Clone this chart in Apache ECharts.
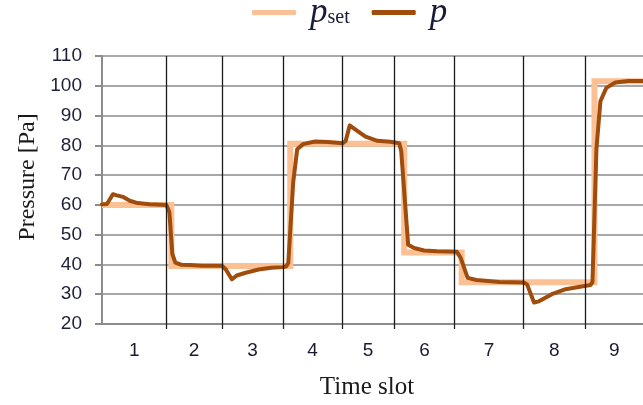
<!DOCTYPE html>
<html>
<head>
<meta charset="utf-8">
<script src="https://cdn.jsdelivr.net/npm/echarts@6/dist/echarts.min.js"></script>
<style>
  html, body { margin: 0; padding: 0; background: #fff; }
  #chart { width: 643px; height: 405px; }
</style>
</head>
<body>
<div id="chart"></div>
<script>
// time slots: labels and boundaries (time index)
const slotLabels = ['1', '2', '3', '4', '5', '6', '7', '8', '9'];
const slotBounds = [0, 65, 121, 183, 242, 295, 356, 425, 488, 546];

// pressure axis
const yMin = 20;
const yMax = 110;
const yStep = 10;

// set point p_set (step profile)
const setTime = [0, 70, 70, 190, 190, 305, 305, 363, 363, 497, 497, 546];
const setValue = [60, 60, 39.5, 39.5, 80.5, 80.5, 44, 44, 34, 34, 101.5, 101.5];

// measured pressure p
const pTime = [0, 5, 11, 15, 21, 28, 36, 48, 65, 68, 71, 74, 80, 88, 101, 121,
  125, 131, 136, 145, 158, 171, 183, 186, 188, 193, 197, 203, 215, 228, 243,
  246, 250, 258, 266, 278, 291, 300, 302, 309, 315, 325, 338, 358, 362, 369,
  378, 401, 426, 429, 436, 441, 454, 468, 481, 493, 495, 499, 503, 509, 518,
  531, 546];
const pValue = [60.2, 60.3, 63.6, 63.2, 62.7, 61.4, 60.6, 60.2, 60.0, 57.5, 43.5, 40.6, 39.9, 39.8, 39.6, 39.6,
  38.3, 35.0, 36.3, 37.2, 38.3, 38.9, 39.1, 39.4, 40.5, 67.7, 78.7, 80.4, 81.3, 81.1, 80.7,
  81.5, 86.7, 84.8, 82.9, 81.5, 81.2, 80.7, 78.0, 46.6, 45.5, 44.7, 44.4, 44.3, 42.2, 35.5,
  34.8, 34.1, 33.9, 33.3, 27.2, 27.6, 30.0, 31.7, 32.4, 33.1, 34.0, 78.7, 94.8, 99.3, 101.1,
  101.6, 101.6];

const innerBounds = slotBounds.slice(1, -1);
const slotMids = slotLabels.map((s, i) => (slotBounds[i] + slotBounds[i + 1]) / 2);

const chart = echarts.init(document.getElementById('chart'));

chart.setOption({
  animation: false,
  backgroundColor: '#fff',
  legend: {
    left: 247,
    top: -10,
    itemWidth: 44,
    itemHeight: 5,
    itemGap: 22,
    icon: 'roundRect',
    data: ['pset', 'p'],
    formatter: name => name === 'pset' ? '{i|p}{s|set}' : '{i|p}',
    textStyle: {
      rich: {
        i: { fontFamily: 'Liberation Serif', fontStyle: 'italic', fontSize: 35, color: '#1a1a3a', padding: [0, 0, 0, 9] },
        s: { fontFamily: 'Liberation Serif', fontSize: 20, color: '#1a1a3a', verticalAlign: 'bottom', padding: [0, 0, 2, 0] }
      }
    }
  },
  grid: { left: 102, right: -5, top: 56, bottom: 78 },
  xAxis: {
    type: 'value',
    min: slotBounds[0],
    max: slotBounds[slotBounds.length - 1],
    name: 'Time slot',
    nameLocation: 'middle',
    nameGap: 51,
    nameTextStyle: { fontFamily: 'Liberation Serif', fontSize: 25, color: '#1a1a1a', padding: [0, 11, 0, 0] },
    axisLine: { lineStyle: { color: '#8c8c8c', width: 2 } },
    axisTick: { customValues: innerBounds, length: 5, lineStyle: { color: '#222', width: 1.3 } },
    axisLabel: {
      customValues: slotMids,
      formatter: v => slotLabels[slotMids.indexOf(v)],
      margin: 17,
      fontFamily: 'Liberation Sans',
      fontSize: 19,
      color: '#1a1a2e'
    },
    splitLine: { show: false }
  },
  yAxis: {
    type: 'value',
    min: yMin,
    max: yMax,
    interval: yStep,
    name: 'Pressure [Pa]',
    nameLocation: 'middle',
    nameGap: 62,
    nameTextStyle: { fontFamily: 'Liberation Serif', fontSize: 24, color: '#1a1a1a', padding: [0, 0, 0, 26] },
    axisLine: { show: true, lineStyle: { color: '#8c8c8c', width: 2 } },
    axisTick: { show: true, length: 7, lineStyle: { color: '#8c8c8c', width: 2 } },
    axisLabel: { margin: 20, fontFamily: 'Liberation Sans', fontSize: 19, color: '#1f1f3a' },
    splitLine: { lineStyle: { color: '#a8a8a8', width: 2 } }
  },
  series: [
    {
      name: 'pset',
      type: 'line',
      data: setTime.map((t, i) => [t, setValue[i]]),
      showSymbol: false,
      color: '#fbc194',
      lineStyle: { color: '#fbc194', width: 6, join: 'miter' },
      markLine: {
        silent: true,
        symbol: ['none', 'none'],
        label: { show: false },
        lineStyle: { color: '#1a1a1a', width: 1.3, type: 'solid' },
        data: innerBounds.map(b => ({ xAxis: b }))
      }
    },
    {
      name: 'p',
      type: 'line',
      data: pTime.map((t, i) => [t, pValue[i]]),
      showSymbol: false,
      color: '#a04c0d',
      lineStyle: { color: '#a04c0d', width: 4, join: 'round', cap: 'round' }
    }
  ]
});
</script>
</body>
</html>
